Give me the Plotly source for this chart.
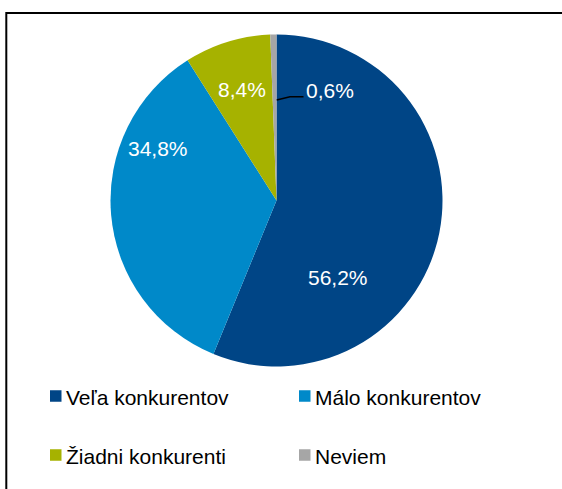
import plotly.graph_objects as go

# ---- data ----
categories = ["Veľa konkurentov", "Málo konkurentov", "Žiadni konkurenti", "Neviem"]
values = [56.2, 34.8, 8.4, 0.6]
colors = ["#004586", "#0089C9", "#A6B200", "#A6A6A6"]

W, H = 562, 489
FONT = "Liberation Sans, Arial, sans-serif"


def px(x):
    return x / W


def py(y):
    return 1 - y / H


def fmt(v):
    return f"{v:.1f}".replace(".", ",") + "%"


# pie geometry (pixels)
cx, cy, R = 276.5, 200.5, 166

fig = go.Figure(
    go.Pie(
        labels=categories,
        values=values,
        sort=False,
        direction="clockwise",
        rotation=0,
        marker=dict(colors=colors, line=dict(width=0)),
        textinfo="none",
        hoverinfo="label+percent",
        domain=dict(x=[px(cx - R), px(cx + R)], y=[py(cy + R), py(cy - R)]),
        showlegend=False,
    )
)

# data label positions (layout, pixels)
label_pos = [(337.5, 277.5), (158, 148), (242, 89), (330, 90)]
annotations = []
for v, (lx, ly) in zip(values, label_pos):
    annotations.append(
        dict(
            x=px(lx), y=py(ly), xref="paper", yref="paper",
            text=fmt(v), showarrow=False,
            xanchor="center", yanchor="middle",
            font=dict(family=FONT, size=21, color="white"),
        )
    )

shapes = []
# leader line for the small slice
shapes.append(
    dict(
        type="path", xref="paper", yref="paper",
        path=f"M {px(276.7)},{py(100)} L {px(290)},{py(96.8)} L {px(303.5)},{py(96.8)}",
        line=dict(color="black", width=1.5),
    )
)

# manual legend: two columns, two rows
sq_x = [50, 299]
row_y = [396, 455]
sq = 11.5
for i, (cat, col) in enumerate(zip(categories, colors)):
    c, r = i % 2, i // 2
    x0 = sq_x[c]
    yc = row_y[r]
    shapes.append(
        dict(
            type="rect", xref="paper", yref="paper",
            x0=px(x0), x1=px(x0 + sq), y0=py(yc + sq / 2), y1=py(yc - sq / 2),
            fillcolor=col, line=dict(width=0),
        )
    )
    annotations.append(
        dict(
            x=px(x0 + sq + 2), y=py(yc + 1), xref="paper", yref="paper",
            text=cat, showarrow=False,
            xanchor="left", yanchor="middle",
            font=dict(family=FONT, size=21, color="black"),
        )
    )

# outer frame (left and top edges visible in the reference)
shapes.append(
    dict(
        type="path", xref="paper", yref="paper",
        path=f"M {px(6.3)},{py(495)} L {px(6.3)},{py(13)} L {px(570)},{py(13)}",
        line=dict(color="black", width=2),
    )
)

fig.update_layout(
    width=W, height=H,
    margin=dict(l=0, r=0, t=0, b=0),
    paper_bgcolor="white",
    plot_bgcolor="white",
    annotations=annotations,
    shapes=shapes,
    font=dict(family=FONT),
)

fig.write_html("out.html", config={"displayModeBar": False})

# remove the default browser body margin so the figure fills the window exactly
with open("out.html", "r", encoding="utf-8") as f:
    html = f.read()
html = html.replace("<body>", '<body style="margin:0;padding:0;overflow:hidden">', 1)
with open("out.html", "w", encoding="utf-8") as f:
    f.write(html)
